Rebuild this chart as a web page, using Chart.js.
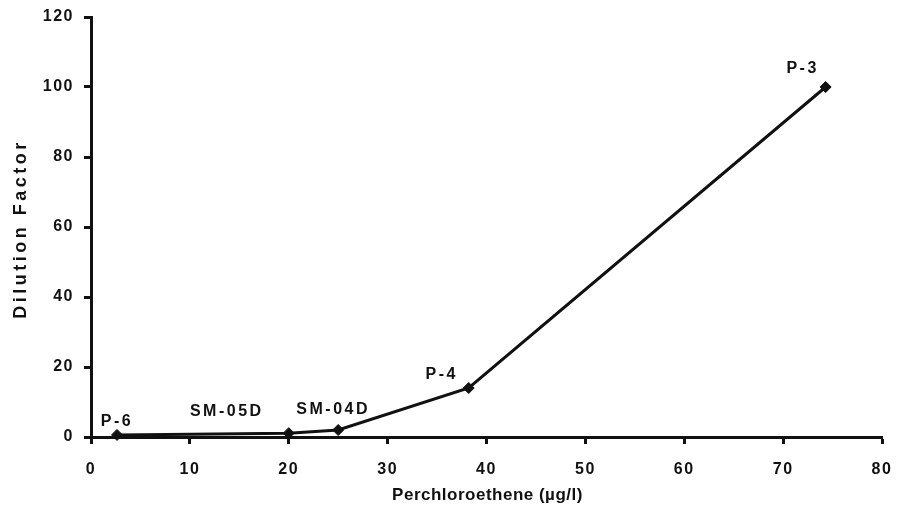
<!DOCTYPE html>
<html><head><meta charset="utf-8">
<script src="https://cdn.jsdelivr.net/npm/chart.js@4/dist/chart.umd.min.js"></script>
<style>html,body{margin:0;padding:0;background:#fff}#wrap{width:901px;height:511px}</style>
</head><body><div id="wrap"><canvas id="c" width="901" height="511"></canvas></div>
<script>
const pceValues = [2.63, 20, 25, 38.2, 74.3];
const dilutionValues = [0.6, 1.1, 2, 14, 100];
const wellLabels = ['P-6', 'SM-05D', 'SM-04D', 'P-4', 'P-3'];
const xTicks = [0, 10, 20, 30, 40, 50, 60, 70, 80];
const yTicks = [0, 20, 40, 60, 80, 100, 120];
const xTitle = 'Perchloroethene (\u00b5g/l)';
const yTitle = 'Dilution Factor';
const labelOffsets = [[-1, -13], [-63, -22], [-6, -20], [-28, -13], [-24, -18]];

const FONT = "'Liberation Sans', Arial, sans-serif";
const INK = '#111';

const textPlugin = {
  id: 'texts',
  beforeDraw(chart) { chart.ctx.letterSpacing = '1.5px'; },
  afterDraw(chart) {
    const ctx = chart.ctx;
    const xs = chart.scales.x, ys = chart.scales.y;
    const ca = chart.chartArea;
    ctx.save();
    ctx.fillStyle = INK;
    ctx.textAlign = 'center';
    ctx.textBaseline = 'middle';
    ctx.font = "bold 16px " + FONT;
    ctx.letterSpacing = '2.5px';
    wellLabels.forEach((t, i) => {
      const px = xs.getPixelForValue(pceValues[i]) + labelOffsets[i][0] + 1;
      const py = ys.getPixelForValue(dilutionValues[i]) + labelOffsets[i][1];
      ctx.fillText(t, px, py);
    });
    ctx.font = "bold 17px " + FONT;
    ctx.letterSpacing = '0.5px';
    ctx.fillText(xTitle, (ca.left + ca.right) / 2 + 1, 495);
    ctx.font = "bold 18px " + FONT;
    ctx.letterSpacing = '3.5px';
    ctx.translate(21, (ca.top + ca.bottom) / 2 + 4);
    ctx.rotate(-Math.PI / 2);
    ctx.fillText(yTitle, 2, 0);
    ctx.restore();
    ctx.letterSpacing = '0px';
  }
};

new Chart(document.getElementById('c'), {
  type: 'scatter',
  data: {
    datasets: [{
      data: pceValues.map((x, i) => ({x: x, y: dilutionValues[i]})),
      showLine: true,
      borderColor: INK,
      backgroundColor: INK,
      borderWidth: 3,
      pointStyle: 'rectRot',
      pointRadius: 5.5,
      pointBackgroundColor: INK,
      pointBorderColor: INK,
      pointBorderWidth: 1,
      clip: false
    }]
  },
  options: {
    responsive: false,
    animation: false,
    devicePixelRatio: 1,
    layout: {padding: {top: 17, right: 19, left: 0, bottom: 0}},
    plugins: {legend: {display: false}, tooltip: {enabled: false}},
    scales: {
      x: {
        type: 'linear', min: 0, max: 80,
        afterBuildTicks: s => { s.ticks = xTicks.map(v => ({value: v})); },
        afterFit: s => { s.height = 74; s.paddingLeft = 0; s.paddingRight = 0; },
        border: {display: true, width: 3, color: INK},
        grid: {drawOnChartArea: false, drawTicks: true, tickLength: 7, tickWidth: 3, tickColor: INK},
        ticks: {color: INK, font: {family: FONT, size: 16, weight: 'bold'}, padding: 16, maxRotation: 0},
        title: {display: false}
      },
      y: {
        type: 'linear', min: 0, max: 120,
        afterBuildTicks: s => { s.ticks = yTicks.map(v => ({value: v})); },
        afterFit: s => { s.width = 91; s.paddingTop = 0; s.paddingBottom = 0; },
        border: {display: true, width: 3, color: INK},
        grid: {drawOnChartArea: false, drawTicks: true, tickLength: 7, tickWidth: 3, tickColor: INK},
        ticks: {color: INK, font: {family: FONT, size: 16, weight: 'bold'}, padding: 10},
        title: {display: false}
      }
    }
  },
  plugins: [textPlugin]
});
</script></body></html>
